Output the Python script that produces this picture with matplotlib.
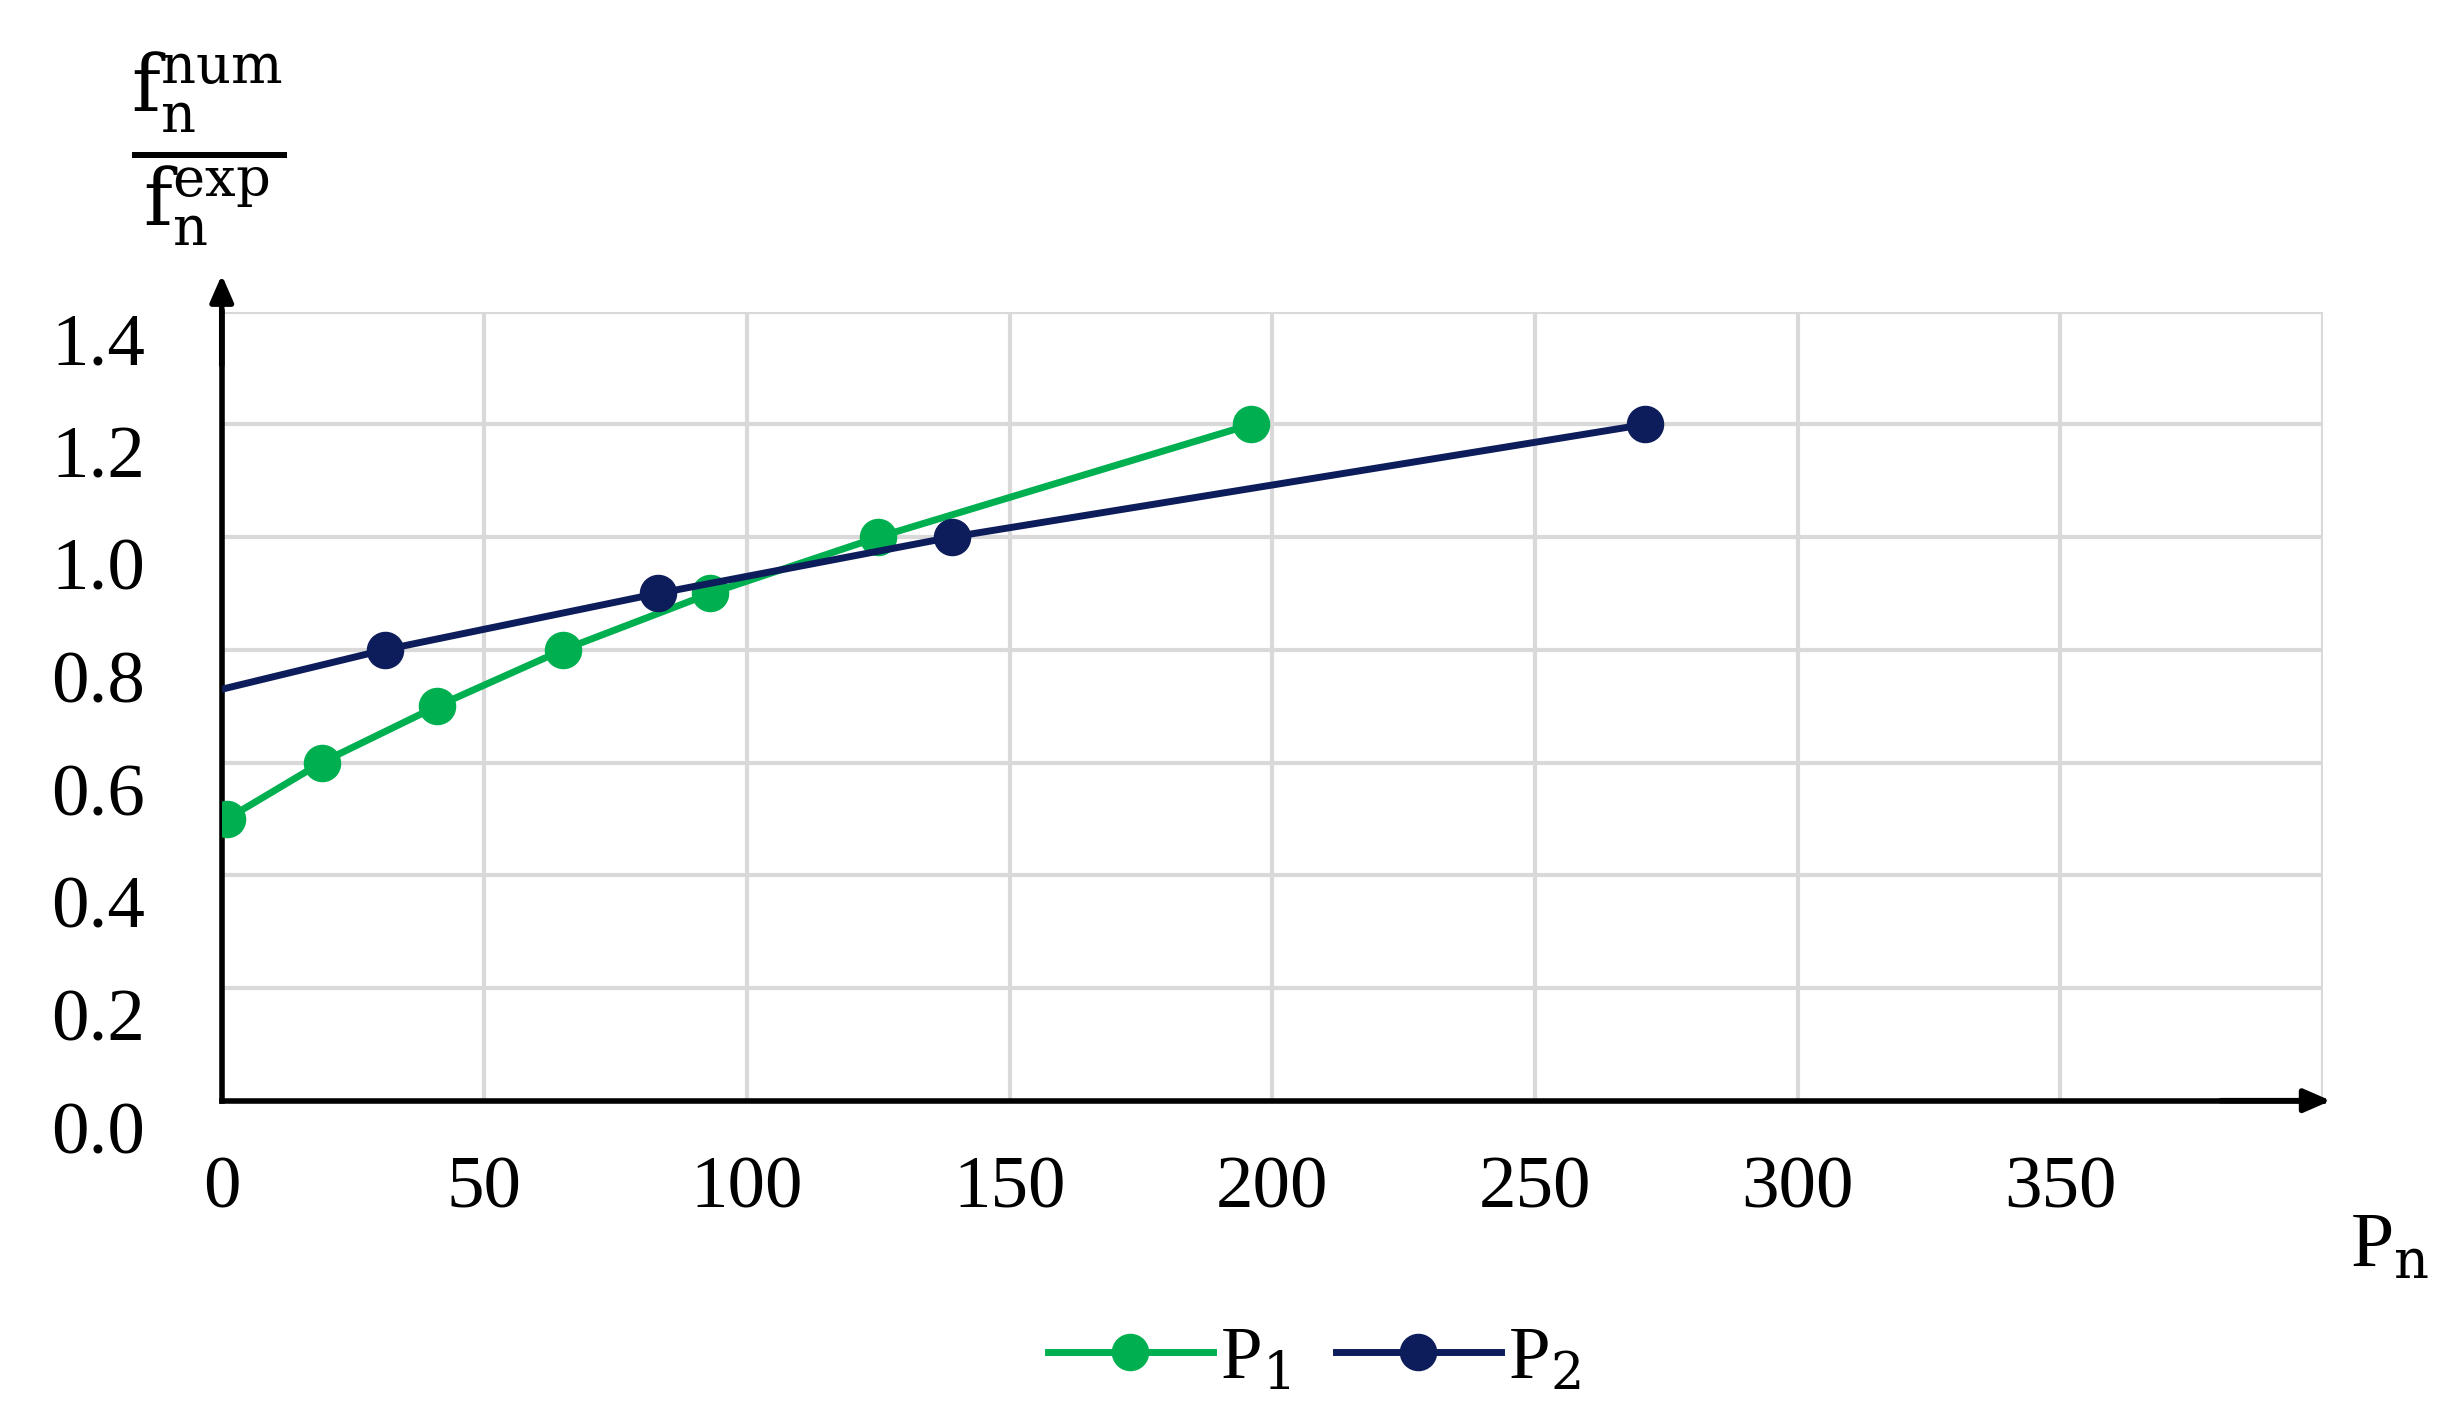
import matplotlib.pyplot as plt
import matplotlib.transforms as mtransforms

p1_x = [1, 19, 41, 65, 93, 125, 196]
p1_y = [0.50, 0.60, 0.70, 0.80, 0.90, 1.00, 1.20]
p2_x = [0, 31, 83, 139, 271]
p2_y = [0.73, 0.80, 0.90, 1.00, 1.20]
x_ticks = [0, 50, 100, 150, 200, 250, 300, 350]
y_ticks = [0.0, 0.2, 0.4, 0.6, 0.8, 1.0, 1.2, 1.4]

plt.rcParams['font.family'] = ['Liberation Serif', 'DejaVu Serif']
plt.rcParams['mathtext.fontset'] = 'dejavuserif'

fig = plt.figure(figsize=(24.53, 14.23), dpi=100)
ax = fig.add_axes([0.0904, 0.2265, 0.8566, 0.5545])

green = '#00b050'
navy = '#0d1c5a'
ax.plot(p1_x, p1_y, color=green, lw=5, marker='o', ms=26, label='P$_1$', zorder=3)
ax.plot(p2_x, p2_y, color=navy, lw=5, marker='o', ms=26, markevery=[1, 2, 3, 4],
        label='P$_2$', zorder=4)

ax.set_xlim(0, 400)
ax.set_ylim(0, 1.4)
ax.set_xticks(x_ticks + [400])
ax.set_xticklabels([str(v) for v in x_ticks] + [''])
ax.set_yticks(y_ticks)
ax.set_yticklabels([f'{v:.1f}' for v in y_ticks])
ax.grid(True, color='#d9d9d9', lw=3)
ax.set_axisbelow(True)
for s in ['top', 'right']:
    ax.spines[s].set_visible(False)
ax.spines['left'].set_linewidth(4)
ax.spines['bottom'].set_linewidth(4)
ax.tick_params(length=0, labelsize=54)
ax.tick_params(axis='x', pad=40)
ax.tick_params(axis='y', pad=55)
shift = mtransforms.ScaledTranslation(0, -0.27, fig.dpi_scale_trans)
for lbl in ax.get_yticklabels():
    lbl.set_transform(lbl.get_transform() + shift)

# arrows on axes
ax.annotate('', xy=(0, 1.47), xytext=(0, 1.3), annotation_clip=False,
            arrowprops=dict(arrowstyle='-|>,head_width=0.7,head_length=1.6', color='black', lw=4))
ax.annotate('', xy=(402, 0), xytext=(380, 0), annotation_clip=False,
            arrowprops=dict(arrowstyle='-|>,head_width=0.7,head_length=1.6', color='black', lw=4))

fig.text(0.085, 0.895, r'$\frac{\mathrm{f}_\mathrm{n}^{\mathrm{num}}}{\mathrm{f}_\mathrm{n}^{\mathrm{exp}}}$',
         fontsize=80, ha='center', va='center')
fig.text(0.958, 0.11, r'P$_\mathrm{n}$', fontsize=56, ha='left')

ax.legend(loc='upper center', bbox_to_anchor=(0.52, -0.2), ncol=2, frameon=False,
          fontsize=54, handlelength=2.2, columnspacing=0.6, handletextpad=0.1)

fig.savefig('out.png', dpi=100)
